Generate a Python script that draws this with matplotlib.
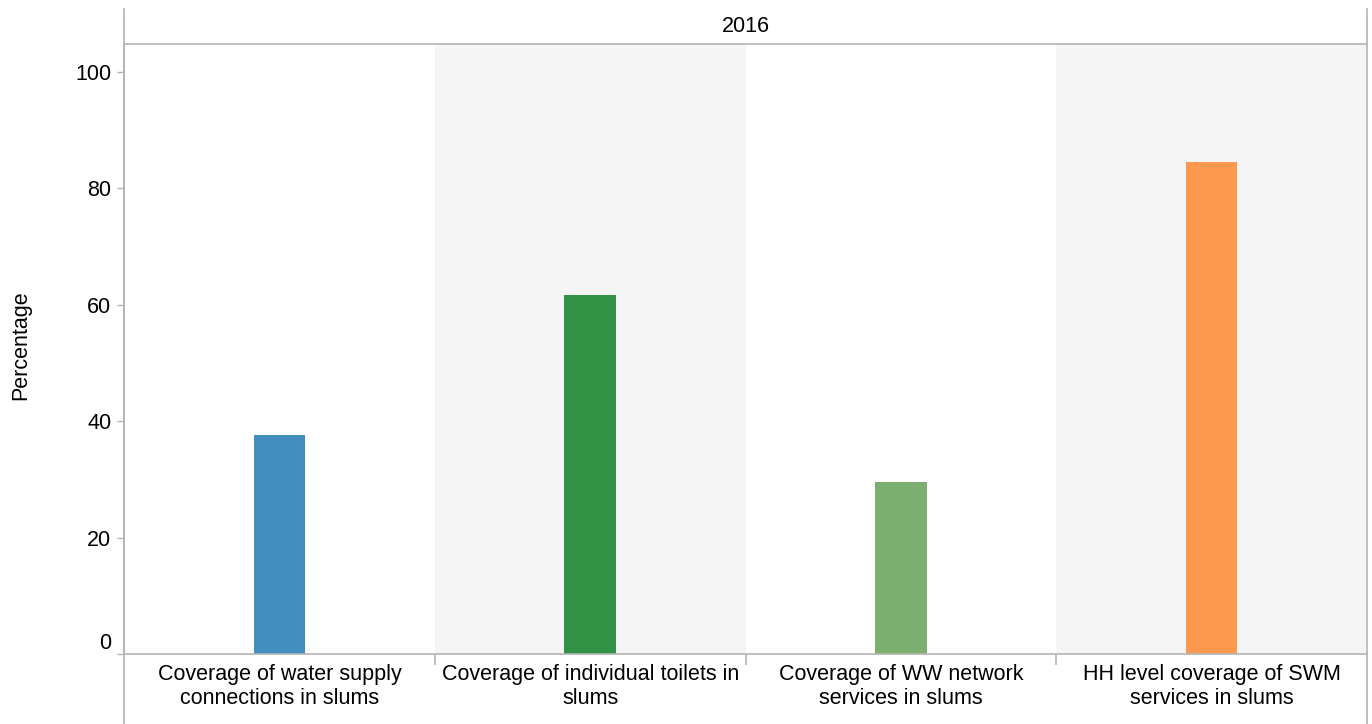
import matplotlib
matplotlib.use("Agg")
import matplotlib.pyplot as plt
from matplotlib.lines import Line2D

categories = [
    "Coverage of water supply\nconnections in slums",
    "Coverage of individual toilets in\nslums",
    "Coverage of WW network\nservices in slums",
    "HH level coverage of SWM\nservices in slums",
]
values = [37.6, 61.7, 29.5, 84.5]
colors = ["#428ebf", "#319245", "#7aaf6f", "#fd984f"]
y_ticks = [0, 20, 40, 60, 80, 100]
panel_title = "2016"
y_label = "Percentage"

plt.rcParams['font.family'] = ['Liberation Sans', 'DejaVu Sans']
W, H = 1372, 724
fig = plt.figure(figsize=(W / 100, H / 100), dpi=100)
L, R, B, T = 124, 1367, 654, 44
ax = fig.add_axes([L / W, 1 - B / H, (R - L) / W, (B - T) / H])

n = len(categories)
x = list(range(n))
for i in x:
    if i % 2 == 1:
        ax.axvspan(i - 0.5, i + 0.5, color="#f5f5f5", zorder=0, lw=0)
ax.bar(x, values, width=0.165, color=colors, zorder=2)
ax.set_xlim(-0.5, n - 0.5)
ax.set_ylim(0, 104.8)

gray = "#b4b4b4"
ax.spines["right"].set_visible(False)
for s in ["left", "top", "bottom"]:
    ax.spines[s].set_color(gray)
    ax.spines[s].set_linewidth(1.2)

fs = 15.5
ax.set_yticks(y_ticks)
ax.set_yticklabels([str(v) for v in y_ticks], fontsize=fs, color="#000000")
ax.tick_params(axis="y", length=5, color=gray, width=1, pad=4)
ax.get_yticklabels()[0].set_verticalalignment("bottom")
ax.set_xticks(x)
ax.set_xticklabels(categories, fontsize=fs, linespacing=1.2)
ax.tick_params(axis="x", which="major", length=0, pad=7)
ax.set_xticks([i + 0.5 for i in range(n - 1)], minor=True)
ax.tick_params(axis="x", which="minor", length=8, color=gray, width=1.2)

ax.set_ylabel(y_label, fontsize=fs, labelpad=0)
ax.yaxis.set_label_coords(-(L - 31) / (R - L), 0.507)

# panel frame lines
fig.add_artist(Line2D([L / W, L / W], [0, 1 - 9 / H], color=gray, lw=1.2))
fig.add_artist(Line2D([R / W, R / W], [0, 1 - 9 / H], color=gray, lw=1.2))
fig.text((L + R) / 2 / W, 1 - 27 / H, panel_title, ha="center", va="center", fontsize=fs)

fig.savefig("out.png", dpi=100)
